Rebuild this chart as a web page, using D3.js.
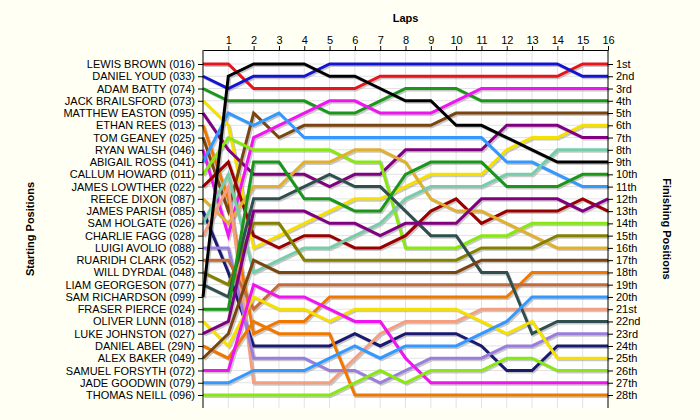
<!DOCTYPE html>
<html><head><meta charset="utf-8">
<script src="https://cdn.jsdelivr.net/npm/d3@7"></script>
<style>body{margin:0;background:#fffff4;font-family:Arial,"Liberation Sans",sans-serif}</style>
</head><body><svg id="c" width="700" height="420"></svg>
<script>
const riders = ["LEWIS BROWN (016)","DANIEL YOUD (033)","ADAM BATTY (074)","JACK BRAILSFORD (073)","MATTHEW EASTON (095)","ETHAN REES (013)","TOM GEANEY (025)","RYAN WALSH (046)","ABIGAIL ROSS (041)","CALLUM HOWARD (011)","JAMES LOWTHER (022)","REECE DIXON (087)","JAMES PARISH (085)","SAM HOLGATE (026)","CHARLIE FAGG (028)","LUIGI AVOLIO (088)","RUARIDH CLARK (052)","WILL DYRDAL (048)","LIAM GEORGESON (077)","SAM RICHARDSON (099)","FRASER PIERCE (024)","OLIVER LUNN (018)","LUKE JOHNSTON (027)","DANIEL ABEL (29N)","ALEX BAKER (049)","SAMUEL FORSYTH (072)","JADE GOODWIN (079)","THOMAS NEILL (096)"];
const riderColors = ["#e8141b","#1414d0","#1a961a","#f5e000","#800080","#f07800","#7a4510","#f014f0","#3399ff","#88e812","#990000","#e0b030","#1a1a6e","#77ccaa","#f4a080","#9a7ddc","#c86a38","#858000","#2f4f4f","#000000","#1a961a","#f5e000","#800080","#f07800","#7a4510","#f014f0","#3399ff","#88e812"];
const lapLabels = ["1","2","3","4","5","6","7","8","9","10","11","12","13","14","15","16"];
const finishLabels = ["1st","2nd","3rd","4th","5th","6th","7th","8th","9th","10th","11th","12th","13th","14th","15th","16th","17th","18th","19th","20th","21st","22nd","23rd","24th","25th","26th","27th","28th"];
// position of each rider at lap 0..16
const positions = [
 [1,1,3,3,3,3,3,2,2,2,2,2,2,2,2,1,1],
 [2,3,2,2,2,1,1,1,1,1,1,1,1,1,1,2,2],
 [3,4,4,4,4,5,5,4,3,3,3,4,4,4,4,4,4],
 [4,6,16,15,14,13,12,12,11,10,10,10,8,7,7,6,6],
 [5,8,10,10,10,11,10,10,8,8,8,8,6,6,6,7,7],
 [6,12,23,22,22,20,20,20,20,20,20,20,20,18,18,18,18],
 [7,13,5,7,6,6,6,6,6,6,5,5,5,5,5,5,5],
 [8,15,7,6,5,4,4,5,5,5,4,3,3,3,3,3,3],
 [9,5,6,5,7,7,7,7,7,7,7,7,9,9,10,11,11],
 [10,7,8,8,8,8,9,9,16,16,16,15,15,14,14,14,14],
 [11,9,15,16,15,15,16,16,15,13,12,14,13,13,13,12,13],
 [12,14,11,11,9,9,8,8,9,12,13,13,14,15,16,16,16],
 [13,18,24,24,24,24,23,24,23,23,23,24,26,26,24,24,24],
 [14,10,18,17,16,16,15,14,12,11,11,11,10,10,8,8,8],
 [15,11,27,27,27,27,25,23,22,22,22,21,21,21,21,21,21],
 [16,16,25,25,25,26,26,27,26,25,25,25,24,24,23,23,23],
 [17,17,21,19,19,19,19,19,19,19,19,19,19,19,19,19,19],
 [18,19,14,14,17,17,17,17,17,17,17,16,16,16,15,15,15],
 [19,20,12,12,11,10,11,11,13,15,15,18,18,23,22,22,22],
 [20,2,1,1,1,2,2,3,4,4,6,6,7,8,9,9,9],
 [21,21,9,9,12,12,13,13,10,9,9,9,11,11,11,10,10],
 [22,24,20,21,21,22,21,21,21,21,21,22,23,22,25,25,25],
 [23,22,13,13,13,14,14,15,14,14,14,12,12,12,12,13,12],
 [24,25,22,23,23,23,28,28,28,28,28,28,28,28,28,28,28],
 [25,23,17,18,18,18,18,18,18,18,18,17,17,17,17,17,17],
 [26,26,19,20,20,21,22,22,25,27,27,27,27,27,27,27,27],
 [27,27,26,26,26,25,24,25,24,24,24,23,22,20,20,20,20],
 [28,28,28,28,28,28,27,26,27,26,26,26,25,25,26,26,26]
];

const svg = d3.select("#c");
const x = d3.scaleLinear().domain([0,16]).range([203,608]);
const y = d3.scalePoint().domain(d3.range(1,29)).range([64,395]);
const top0 = 50, bot0 = 408;

svg.append("rect").attr("x",0).attr("y",0).attr("width",700).attr("height",420).attr("fill","#fffff4");
svg.append("rect").attr("x",x(0)).attr("y",top0).attr("width",x(16)-x(0)).attr("height",bot0-top0).attr("fill","#ffffff");

// grid
const g = svg.append("g").attr("stroke","#e2e2e2").attr("stroke-width",1);
d3.range(1,16).forEach(l=>g.append("line").attr("x1",x(l)).attr("x2",x(l)).attr("y1",top0).attr("y2",bot0));
d3.range(1,29).forEach(r=>g.append("line").attr("x1",x(0)).attr("x2",x(16)).attr("y1",y(r)).attr("y2",y(r)));

const line = d3.line().x((d,i)=>x(i)).y(d=>y(d));
// shadows
svg.append("g").selectAll("path").data(positions).join("path")
  .attr("d",line).attr("fill","none").attr("stroke","#9a9a9a").attr("stroke-opacity",0.55)
  .attr("stroke-width",3).attr("transform","translate(1.5,1.5)");
svg.append("g").selectAll("path").data(positions).join("path")
  .attr("d",line).attr("fill","none").attr("stroke",(d,i)=>riderColors[i])
  .attr("stroke-width",3).attr("stroke-linejoin","miter");

// axes
const ax = svg.append("g").attr("transform",`translate(0,${top0})`)
  .call(d3.axisTop(x).tickValues(d3.range(1,17)).tickFormat(d=>lapLabels[d-1]).tickSize(4).tickPadding(2).tickSizeOuter(0));
ax.select(".domain").attr("stroke","#000");
ax.selectAll("text").attr("font-size",11).attr("font-family","Arial, Liberation Sans, sans-serif").attr("fill","#000");

const al = svg.append("g").attr("transform",`translate(${x(0)},0)`)
  .call(d3.axisLeft(y).tickFormat(d=>riders[d-1]).tickSize(5).tickSizeOuter(0));
al.select(".domain").remove();
al.selectAll("text").attr("font-size",11).attr("font-family","Arial, Liberation Sans, sans-serif").attr("fill","#000");
svg.append("line").attr("x1",x(0)).attr("x2",x(0)).attr("y1",top0).attr("y2",bot0).attr("stroke","#000");

const ar = svg.append("g").attr("transform",`translate(${x(16)},0)`)
  .call(d3.axisRight(y).tickFormat(d=>finishLabels[d-1]).tickSize(5).tickSizeOuter(0));
ar.select(".domain").remove();
ar.selectAll("text").attr("font-size",11).attr("font-family","Arial, Liberation Sans, sans-serif").attr("fill","#000");
svg.append("line").attr("x1",x(16)).attr("x2",x(16)).attr("y1",top0).attr("y2",bot0).attr("stroke","#000");

svg.append("text").attr("x",(x(0)+x(16))/2).attr("y",22).attr("text-anchor","middle")
  .attr("font-size",11).attr("font-weight","bold").text("Laps");
svg.append("text").attr("transform","translate(34,229) rotate(-90)").attr("text-anchor","middle")
  .attr("font-size",11).attr("font-weight","bold").text("Starting Positions");
svg.append("text").attr("transform","translate(663,229) rotate(90)").attr("text-anchor","middle")
  .attr("font-size",11).attr("font-weight","bold").text("Finishing Positions");
</script></body></html>
